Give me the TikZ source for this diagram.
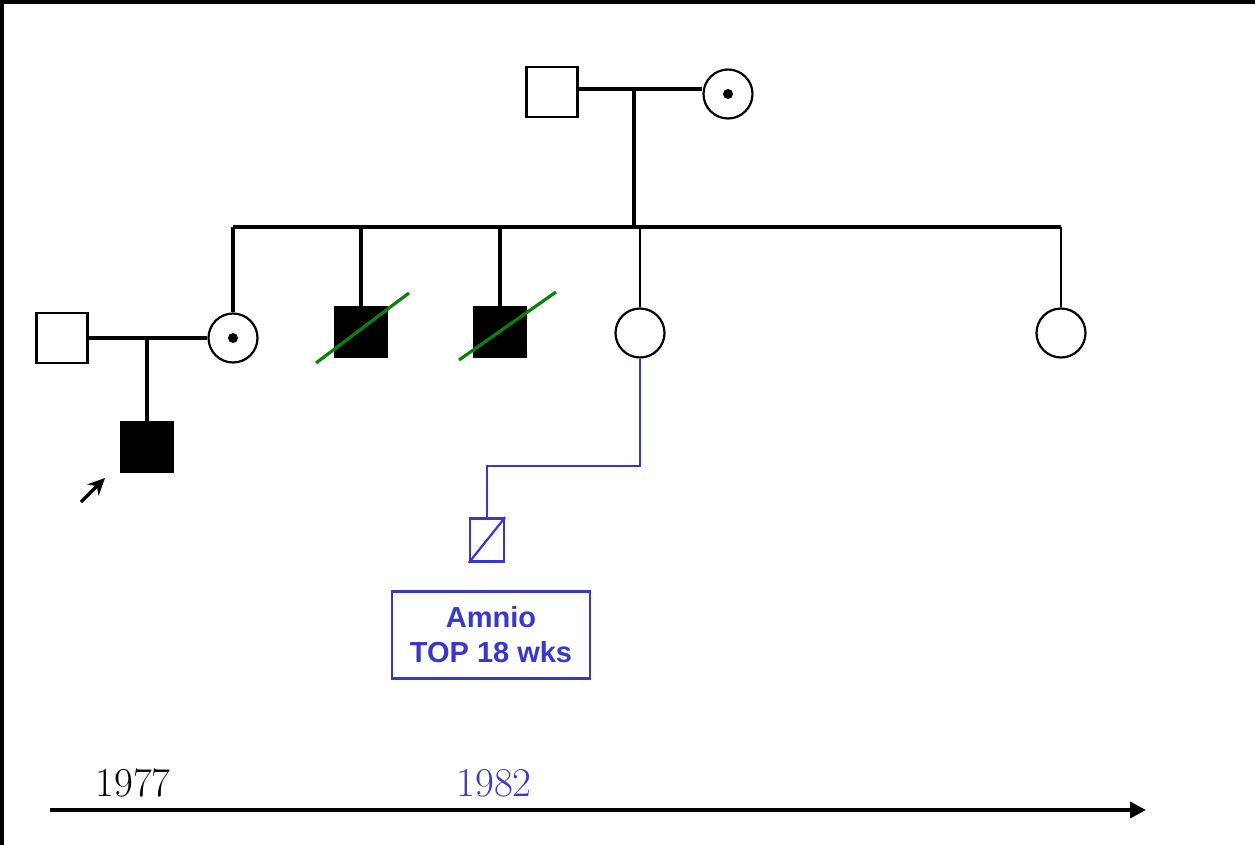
\documentclass[tikz,border=0pt]{standalone}
\usepackage{fontspec}
\newfontfamily\boxfont{Liberation Sans}
\usetikzlibrary{arrows.meta}
\definecolor{pblue}{RGB}{55,55,210}
\definecolor{pgreen}{RGB}{10,130,10}
\tikzset{
  male/.style={draw, line width=2.2pt, rectangle, inner sep=0pt, minimum width=51pt, minimum height=50pt},
  affected/.style={male, fill=black},
  female/.style={draw, line width=2.2pt, circle, inner sep=0pt, minimum size=49pt},
  carrier/.style={female, path picture={\fill (path picture bounding box.center) circle (5pt);}},
  link/.style={line width=3.8pt},
  thinlink/.style={line width=2.6pt},
  deceased/.style={pgreen, line width=3.2pt},
  bluelink/.style={pblue, line width=2.4pt},
}
\begin{document}
\begin{tikzpicture}[x=1pt,y=-1pt]
\useasboundingbox (0,0) rectangle (1255,845);
\fill[white] (0,0) rectangle (1255,845);
\fill[black] (0,0) rectangle (1255,4);
\fill[black] (0,0) rectangle (4,845);

% generation I
\node[male] (gf) at (552,92) {};
\node[carrier] (gm) at (728,94) {};
\coordinate (m1) at (634,89);
\coordinate (s1) at (634,227);
\draw[link] (gf.east |- m1) -- (gm.west |- m1);
\draw[link] (m1) -- (s1);

% generation II
\node[carrier] (d1) at (233,338) {};
\node[affected] (b1) at (361,332) {};
\node[affected] (b2) at (500,332) {};
\node[female] (d2) at (640,333) {};
\node[female] (d3) at (1061,333) {};
\draw[link] (d1.north |- s1) -- (d3.north |- s1);
\draw[link] (d1.north |- s1) -- (d1.north);
\draw[link] (b1.north |- s1) -- (b1.north);
\draw[link] (b2.north |- s1) -- (b2.north);
\draw[thinlink] (d2.north |- s1) -- (d2.north);
\draw[thinlink] (d3.north |- s1) -- (d3.north);
\coordinate (g1a) at (316,363); \coordinate (g1b) at (409,293);
\coordinate (g2a) at (459,360); \coordinate (g2b) at (556,292);
\draw[deceased] (g1a) -- (g1b);
\draw[deceased] (g2a) -- (g2b);

% spouse and proband
\node[male] (h1) at (62,338) {};
\coordinate (m2) at (147,338);
\draw[link] (h1.east) -- (d1.west);
\node[affected] (p) at (147,447) {};
\draw[link] (m2) -- (p.north);
\coordinate (pa) at (81,502);
\coordinate (pb) at (105,478);
\draw[line width=3.2pt, -{Stealth[length=17pt,width=16pt]}] (pa) -- (pb);

% generation III (blue)
\node[draw=pblue, line width=2.4pt, rectangle, inner sep=0pt, minimum width=34pt, minimum height=43pt] (f) at (487,540) {};
\coordinate (bc) at (640,466);
\draw[bluelink] (d2.south) -- (d2.south |- bc) -- (f.north |- bc) -- (f.north);
\draw[pblue, line width=2.2pt] (f.south west) -- (f.north east);
\node[draw=pblue, line width=2.6pt, rectangle, minimum width=198pt, minimum height=87pt, inner sep=0pt,
      text=pblue, font=\boxfont\bfseries\fontsize{29}{35}\selectfont, align=center] (lbl) at (491,635) {Amnio\\TOP 18 wks};

% timeline
\coordinate (t0) at (50,810);
\coordinate (t1) at (1146,810);
\draw[line width=3.8pt, -{Triangle[length=16pt,width=16pt]}] (t0) -- (t1);
\node[font=\fontsize{41}{44}\selectfont, anchor=center] (y1) at (133,783) {1977};
\node[font=\fontsize{41}{44}\selectfont, text=pblue, anchor=center] (y2) at (494,783) {1982};
\end{tikzpicture}
\end{document}
